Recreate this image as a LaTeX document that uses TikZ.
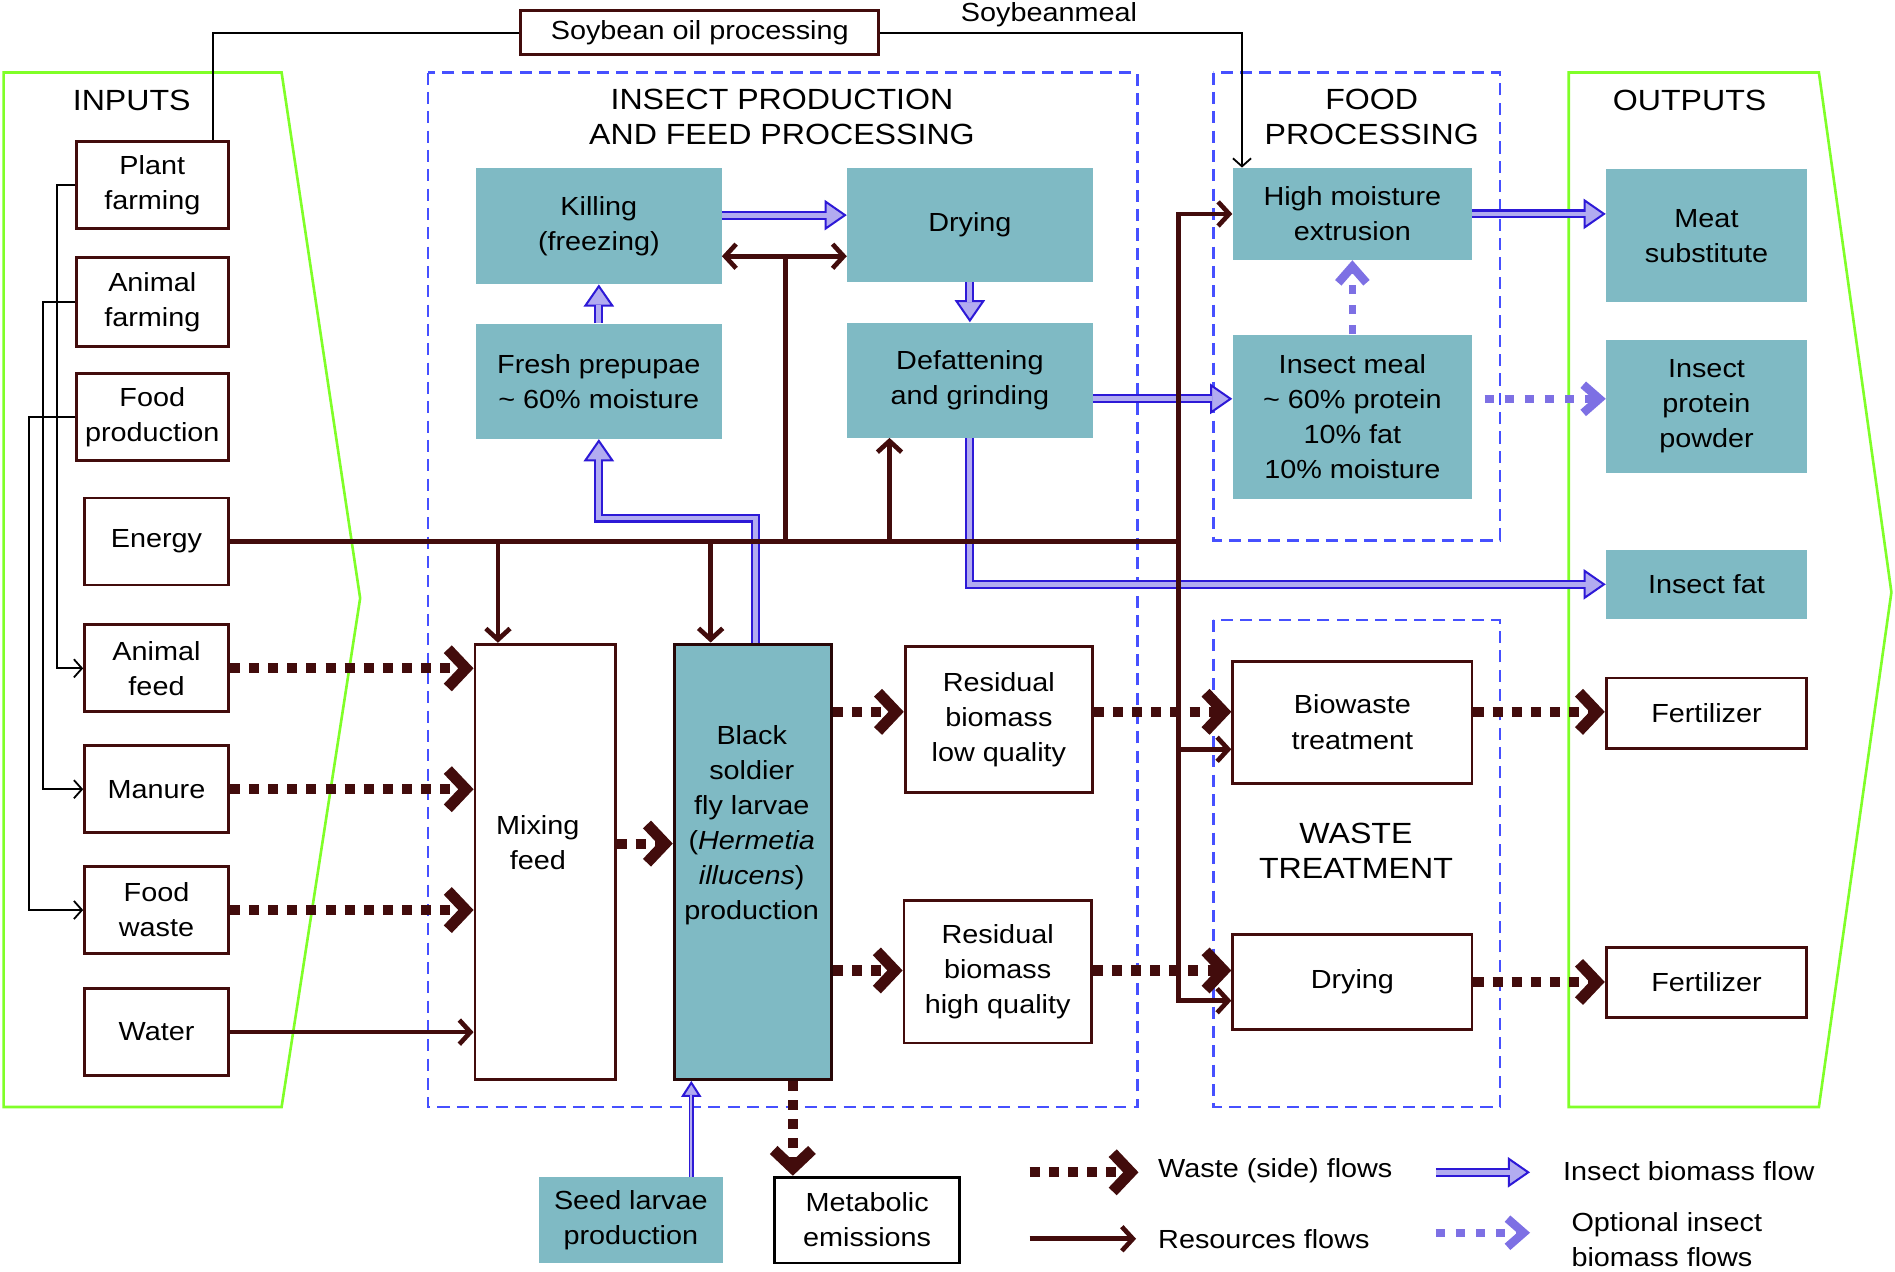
\documentclass[tikz,border=0pt]{standalone}
\usepackage{fontspec}
\setmainfont{Liberation Sans}[FakeStretch=1.1]
\usetikzlibrary{arrows.meta,calc}
\definecolor{wred}{RGB}{66,12,12}
\definecolor{tealb}{RGB}{127,186,196}
\definecolor{dblue}{RGB}{70,80,255}
\definecolor{lgreen}{RGB}{128,255,40}
\definecolor{bblue}{RGB}{45,25,215}
\definecolor{lav}{RGB}{178,172,240}
\definecolor{olav}{RGB}{125,112,228}
\newcommand\mybox[7]{\node[#6, minimum width=(#4-#2)*0.6pt, minimum height=(#5-#3)*0.6pt] (#1) at ({(#2+#4)/2},{(#3+#5)/2}) {#7};}
\begin{document}
\begin{tikzpicture}[x=0.6pt,y=-0.6pt,
  every node/.style={font=\fontsize{13}{17.4}\selectfont, align=center, inner sep=0pt},
  ttl/.style={font=\fontsize{14.5}{17.4}\selectfont},
  wbox/.style={draw=wred, line width=1.4pt, fill=white, rectangle},
  tbox/.style={fill=tealb, rectangle},
  region/.style={draw=dblue, line width=1.3pt, dash pattern=on 6pt off 3.6pt},
  greenreg/.style={draw=lgreen, line width=1.3pt},
  res/.style={draw=wred, line width=2.3pt},
  resarr/.style={res, -{Straight Barb[length=5.5pt,width=12pt]}},
  resdbl/.style={res, {Straight Barb[length=5.5pt,width=12pt]}-{Straight Barb[length=5.5pt,width=12pt]}},
  waste/.style={draw=wred, line width=5pt, dash pattern=on 5pt off 4.5pt, -{Straight Barb[sharp,length=9pt,width=19pt,line width=5.5pt]}},
  thinln/.style={draw=black, line width=0.9pt},
  thinarr/.style={thinln, -{Straight Barb[length=4pt,width=9pt]}},
  bflow/.style={draw=bblue, line width=4.4pt, -{Triangle[length=11pt,width=15pt,fill=lav,line width=1pt]}, postaction={draw=lav, line width=2.4pt, -, shorten >=10pt}},
  bthin/.style={draw=bblue, line width=2.2pt, -{Triangle[length=8pt,width=10pt,fill=lav,line width=1pt]}, postaction={draw=lav, line width=0.8pt, -, shorten >=7pt}},
  optflow/.style={draw=olav, line width=3.8pt, dash pattern=on 4.6pt off 5.4pt, -{Straight Barb[sharp,length=8pt,width=14pt,line width=4.2pt]}},
]
\useasboundingbox (0,0) rectangle (1568,1052);
\fill[white] (0,0) rectangle (1568,1052);

% regions
\draw[greenreg] (3,60) -- (233,60) -- (298,495) -- (233,916) -- (3,916) -- cycle;
\draw[greenreg] (1298,60) -- (1505,60) -- (1565,490) -- (1505,916) -- (1298,916) -- cycle;
\draw[region] (354,60) rectangle (941,916);
\draw[region] (1004,60) rectangle (1241,447);
\draw[region] (1004,513) rectangle (1241,916);

% titles
\node[ttl] (tin) at (109,83) {INPUTS};
\node[ttl] (tinsect) at (647,97) {INSECT PRODUCTION\\AND FEED PROCESSING};
\node[ttl] (tfood) at (1135,97) {FOOD\\PROCESSING};
\node[ttl] (tout) at (1398,83) {OUTPUTS};
\node[ttl] (twaste) at (1122,704) {WASTE\\TREATMENT};

% input boxes
\mybox{plant}{63}{117}{189}{189}{wbox}{Plant\\farming}
\mybox{afarm}{63}{213}{189}{287}{wbox}{Animal\\farming}
\mybox{fprod}{63}{309}{189}{381}{wbox}{Food\\production}
\mybox{energy}{70}{412}{189}{484}{wbox}{Energy}
\mybox{afeed}{70}{517}{189}{589}{wbox}{Animal\\feed}
\mybox{manure}{70}{617}{189}{689}{wbox}{Manure}
\mybox{fwaste}{70}{717}{189}{789}{wbox}{Food\\waste}
\mybox{water}{70}{818}{189}{890}{wbox}{Water}
\mybox{soy}{431}{9}{727}{45}{wbox}{Soybean oil processing}

% insect production
\mybox{kill}{394}{139}{597}{235}{tbox}{Killing\\(freezing)}
\mybox{dry}{701}{139}{904}{233}{tbox}{Drying}
\mybox{prep}{394}{268}{597}{363}{tbox}{Fresh prepupae\\\textasciitilde{} 60\% moisture}
\mybox{def}{701}{267}{904}{362}{tbox}{Defattening\\and grinding}
\mybox{mix}{393}{533}{509}{893}{wbox}{}
\node (mixt) at (445,697) {Mixing\\feed};
\mybox{bsf}{558}{533}{688}{893}{tbox, draw=wred!60!black, line width=1.6pt}{}
\node (bsft) at (622,683) {Black\\soldier\\fly larvae\\(\textit{Hermetia}\\\textit{illucens})\\production};
\mybox{rlow}{749}{535}{904}{656}{wbox}{Residual\\biomass\\low quality}
\mybox{rhigh}{748}{745}{903}{863}{wbox}{Residual\\biomass\\high quality}
\mybox{seed}{446}{974}{598}{1045}{tbox}{Seed larvae\\production}
\mybox{meta}{641}{974}{794}{1045}{wbox, draw=black}{Metabolic\\emissions}

% food processing
\mybox{hme}{1020}{139}{1218}{215}{tbox}{High moisture\\extrusion}
\mybox{meal}{1020}{277}{1218}{413}{tbox}{Insect meal\\\textasciitilde{} 60\% protein\\10\% fat\\10\% moisture}

% waste treatment
\mybox{bio}{1020}{547}{1218}{648}{wbox}{Biowaste\\treatment}
\mybox{dryw}{1020}{773}{1218}{852}{wbox}{Drying}

% outputs
\mybox{meat}{1329}{140}{1495}{250}{tbox}{Meat\\substitute}
\mybox{prot}{1329}{281}{1495}{391}{tbox}{Insect\\protein\\powder}
\mybox{fat}{1329}{455}{1495}{512}{tbox}{Insect fat}
\mybox{fert1}{1329}{561}{1495}{619}{wbox}{Fertilizer}
\mybox{fert2}{1329}{784}{1495}{842}{wbox}{Fertilizer}

% soybean links
\draw[thinln] ($(plant.north)+(50,0)$) |- (soy.west);
\draw[thinarr] (soy.east) -| ($(hme.north west)+(8,0)$);
\node (soymeal) at (868,12) {Soybeanmeal};

% input links
\draw[thinarr] (plant.west) -- ++(-15,0) |- (afeed.west);
\draw[thinarr] (afarm.west) -- ++(-26,0) |- (manure.west);
\draw[thinarr] (fprod.west) -- ++(-38,0) |- (fwaste.west);

% insect biomass flows
\draw[bflow] ($(kill.east)+(0,-9)$) -- ($(dry.west)+(0,-8)$);
\draw[bflow] (dry.south) -- (def.north);
\draw[bflow] (prep.north) -- (kill.south);
\draw[bflow] ($(bsf.north)+(2,0)$) -- ++(0,-103) -| (prep.south);
\draw[bflow] ($(def.east)+(0,15.5)$) -- ($(meal.west)+(0,-15)$);
\draw[bflow] (def.south) |- (fat.west);
\draw[bflow] (hme.east) -- (hme.east -| meat.west);
\draw[bthin] ($(seed.north)+(50,0)$) -- ($(bsf.south)+(-51,0)$);

% optional flows
\draw[optflow] (meal.north) -- (hme.south);
\draw[optflow, shorten <=6pt] ($(meal.east)+(0,-15)$) -- ($(prot.west)+(0,-6)$);

% resources (energy bus)
\coordinate (j1) at (412,448);
\coordinate (j2) at (588,448);
\coordinate (j3) at (650,448);
\coordinate (j4) at (736,448);
\coordinate (jr) at (975,448);
\coordinate (j3t) at (650,212);
\draw[res] (energy.east) -- (jr);
\draw[resarr] (j1) -- (j1 |- mix.north);
\draw[resarr] (j2) -- (j2 |- bsf.north);
\draw[res] (j3) -- (j3t);
\draw[resdbl] (kill.east |- j3t) -- (dry.west |- j3t);
\draw[resarr] (j4) -- (j4 |- def.south);
\draw[resarr] (jr) |- (hme.west);
\draw[resarr] (jr) |- ($(bio.west)+(0,22.5)$);
\draw[resarr] (jr) |- ($(dryw.west)+(0,15.5)$);
\draw[resarr] (water.east) -- (water.east -| mix.west);

% waste flows
\coordinate (w1) at (0,589);
\coordinate (w2) at (0,803);
\draw[waste] (afeed.east) -- (afeed.east -| mix.west);
\draw[waste] (manure.east) -- (manure.east -| mix.west);
\draw[waste] (fwaste.east) -- (fwaste.east -| mix.west);
\draw[waste] ($(mix.east)+(0,-15)$) -- ($(bsf.west)+(0,-15)$);
\draw[waste] (bsf.east |- w1) -- (rlow.west |- w1);
\draw[waste] (bsf.east |- w2) -- (rhigh.west |- w2);
\draw[waste] (rlow.east |- w1) -- (bio.west |- w1);
\draw[waste] (rhigh.east |- w2) -- (dryw.west |- w2);
\draw[waste] (bio.east |- w1) -- (fert1.west |- w1);
\draw[waste] (dryw.east) -- (dryw.east -| fert2.west);
\coordinate (mtop) at ($(bsf.south)+(33,0)$);
\draw[waste] (mtop) -- (mtop |- meta.north);

% legend
\coordinate (lg1a) at (852,970); \coordinate (lg1b) at (942,970);
\draw[waste] (lg1a) -- (lg1b);
\node[anchor=west] (lg1t) at (958,969) {Waste (side) flows};
\coordinate (lg2a) at (852,1025); \coordinate (lg2b) at (940,1025);
\draw[resarr] (lg2a) -- (lg2b);
\node[anchor=west] (lg2t) at (958,1025) {Resources flows};
\coordinate (lg3a) at (1188,970); \coordinate (lg3b) at (1266,970);
\draw[bflow] (lg3a) -- (lg3b);
\node[anchor=west] (lg3t) at (1293,969) {Insect biomass flow};
\coordinate (lg4a) at (1188,1020); \coordinate (lg4b) at (1266,1020);
\draw[optflow] (lg4a) -- (lg4b);
\node[anchor=west, align=left] (lg4t) at (1300,1026) {Optional insect\\biomass flows};
\end{tikzpicture}
\end{document}
